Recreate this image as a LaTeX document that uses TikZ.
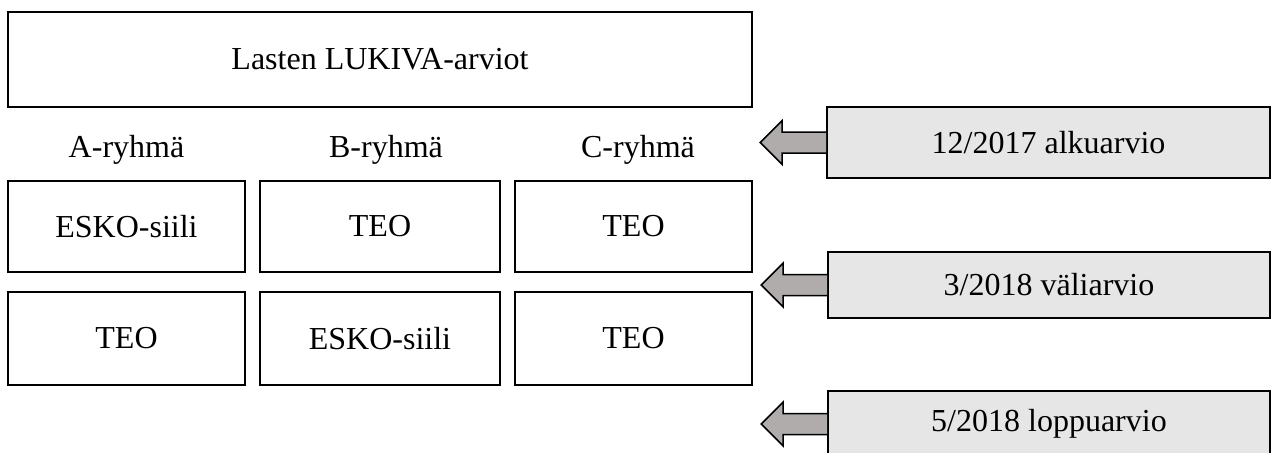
\documentclass[tikz,border=0pt]{standalone}
\usepackage{fontspec}
\setmainfont{Liberation Serif}
\definecolor{boxgray}{HTML}{E6E6E6}
\definecolor{arrowgray}{HTML}{B0ACAC}
\begin{document}
\begin{tikzpicture}[x=1pt,y=-1pt,
  every node/.style={font=\fontsize{32}{36}\selectfont},
  box/.style={draw=black,line width=1.6pt,rectangle,inner sep=0pt},
  datebox/.style={box,fill=boxgray},
  label/.style={inner sep=0pt},
  fatarrow/.style={draw=black,line width=1.5pt,fill=arrowgray,line join=miter}]
\useasboundingbox (0,0) rectangle (1273,452);
\node[box,minimum width=744pt,minimum height=95pt] (top) at (380,59.5) {Lasten LUKIVA-arviot};
\node[label] (la) at (126.5,150) {A-ryhmä};
\node[label] (lb) at (386,150) {B-ryhmä};
\node[label] (lc) at (638,150) {C-ryhmä};
\node[box,minimum width=237pt,minimum height=91pt] (a1) at (126.5,226.5) {ESKO-siili};
\node[box,minimum width=240pt,minimum height=91pt] (b1) at (380,226.5) {TEO};
\node[box,minimum width=237pt,minimum height=91pt] (c1) at (633.5,226.5) {TEO};
\node[box,minimum width=237pt,minimum height=93pt] (a2) at (126.5,338.5) {TEO};
\node[box,minimum width=240pt,minimum height=93pt] (b2) at (380,338.5) {ESKO-siili};
\node[box,minimum width=237pt,minimum height=93pt] (c2) at (633.5,338.5) {TEO};
\node[datebox,minimum width=443pt,minimum height=71pt] (d1) at (1048.5,142.5) {12/2017 alkuarvio};
\node[datebox,minimum width=442pt,minimum height=66pt] (d2) at (1049,285) {3/2018 väliarvio};
\node[datebox,minimum width=442pt,minimum height=66pt] (d3) at (1049,424) {5/2018 loppuarvio};
\foreach \d in {d1,d2,d3}{
  \draw[fatarrow] (\d.west) ++(0,-10.5) -- ++(-44,0) -- ++(0,-11.5) -- ++(-22,22) -- ++(22,22) -- ++(0,-11.5) -- ++(44,0);
}
\end{tikzpicture}
\end{document}
